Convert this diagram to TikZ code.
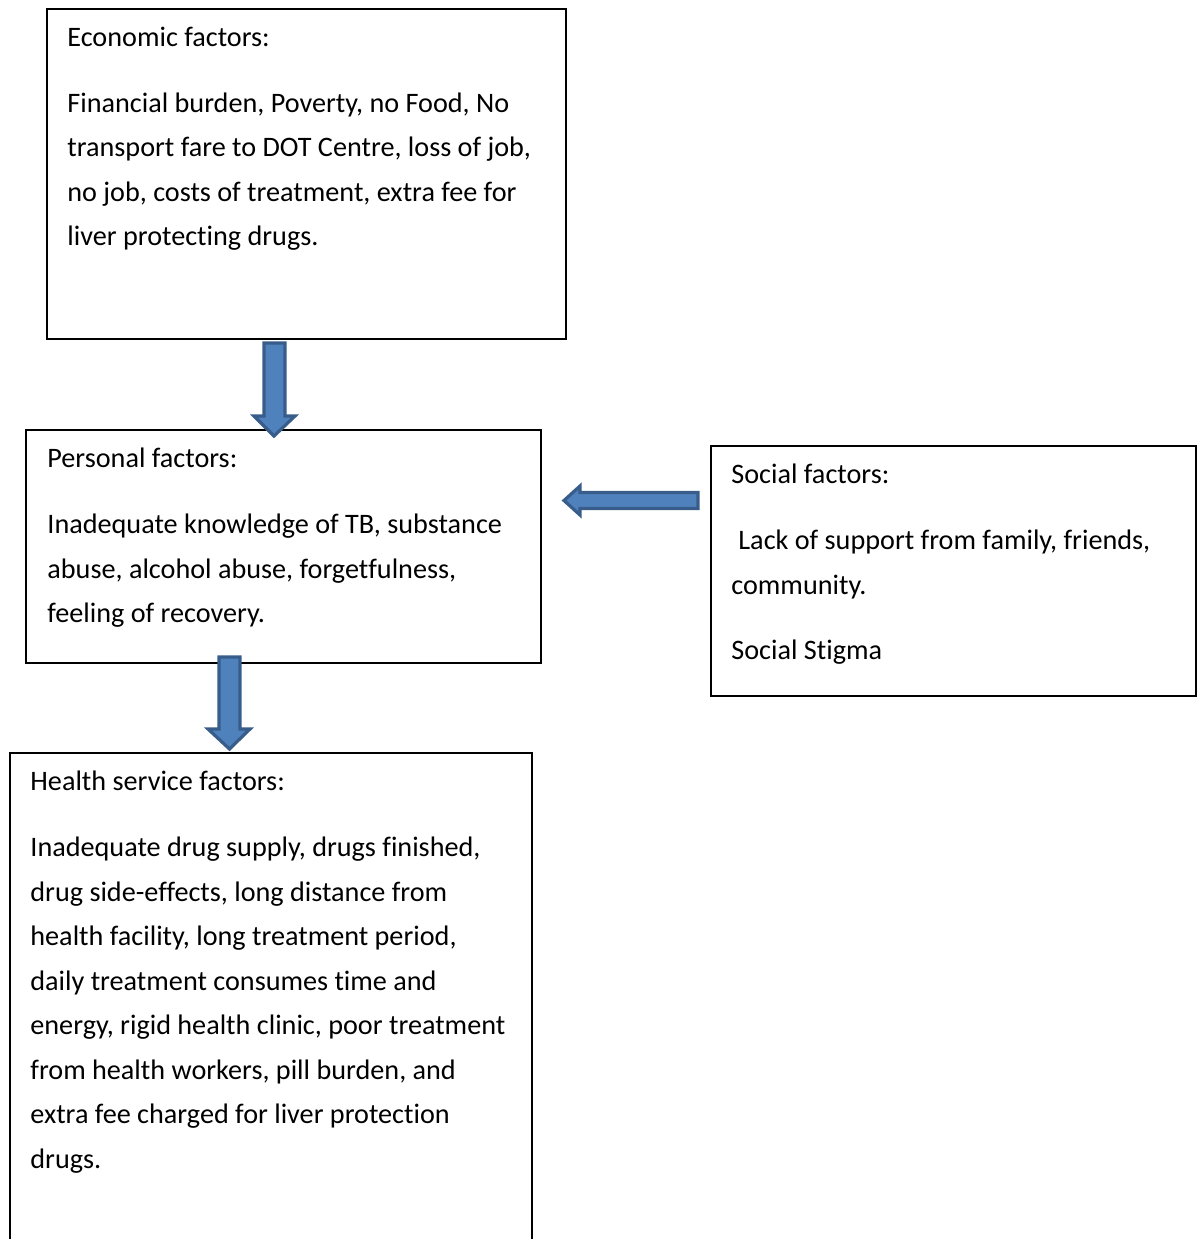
\documentclass[tikz,border=0pt]{standalone}
\usepackage{fontspec}
\setmainfont{Carlito}[Ligatures={NoCommon}]
\definecolor{arrfill}{HTML}{4F81BD}
\definecolor{arrline}{HTML}{385D8A}
\begin{document}
\begin{tikzpicture}[x=0.5pt,y=-0.5pt,
  box/.style={draw=black,line width=1pt},
  txt/.style={anchor=base west,inner sep=0pt,font=\fontsize{14.1}{16}\selectfont},
  blockarrow/.style={fill=arrfill,draw=arrline,line width=1.6pt,line join=miter}]
\useasboundingbox (0,0) rectangle (1197,1239);
% boxes
\draw[box] (47,9) rectangle (566,339);
\draw[box] (26,430) rectangle (541,663);
\draw[box] (711,446) rectangle (1196,696);
\draw[box] (10,1260) -- (10,753) -- (532,753) -- (532,1260);
% Economic
\node[txt] (e0) at (67,46.5) {Economic factors:};
\node[txt] (e1) at (67,112) {Financial burden, Poverty, no Food, No};
\node[txt] (e2) at (67,156.5) {transport fare to DOT Centre, loss of job,};
\node[txt] (e3) at (67,201) {no job, costs of treatment, extra fee for};
\node[txt] (e4) at (67,245.5) {liver protecting drugs.};
% Personal
\node[txt] (p0) at (47,467.5) {Personal factors:};
\node[txt] (p1) at (47,533.5) {Inadequate knowledge of TB, substance};
\node[txt] (p2) at (47,578) {abuse, alcohol abuse, forgetfulness,};
\node[txt] (p3) at (47,622) {feeling of recovery.};
% Social
\node[txt] (s0) at (731,483.5) {Social factors:};
\node[txt] (s1) at (738,549.5) {Lack of support from family, friends,};
\node[txt] (s2) at (731,594) {community.};
\node[txt] (s3) at (731,659.5) {Social Stigma};
% Health
\node[txt] (h0) at (30,790.5) {Health service factors:};
\node[txt] (h1) at (30,856.5) {Inadequate drug supply, drugs finished,};
\node[txt] (h2) at (30,901) {drug side-effects, long distance from};
\node[txt] (h3) at (30,945.5) {health facility, long treatment period,};
\node[txt] (h4) at (30,990) {daily treatment consumes time and};
\node[txt] (h5) at (30,1034.5) {energy, rigid health clinic, poor treatment};
\node[txt] (h6) at (30,1079) {from health workers, pill burden, and};
\node[txt] (h7) at (30,1123.5) {extra fee charged for liver protection};
\node[txt] (h8) at (30,1168) {drugs.};
% arrows
\draw[blockarrow] (264,343) -- (285,343) -- (285,416) -- (295,416) -- (274,436) -- (254,416) -- (264,416) -- cycle;
\draw[blockarrow] (219,657) -- (240,657) -- (240,729) -- (250,729) -- (229.5,749) -- (208,729) -- (219,729) -- cycle;
\draw[blockarrow] (698,492.5) -- (698,508.5) -- (580,508.5) -- (580,515) -- (564,500.5) -- (580,486) -- (580,492.5) -- cycle;
\end{tikzpicture}
\end{document}
